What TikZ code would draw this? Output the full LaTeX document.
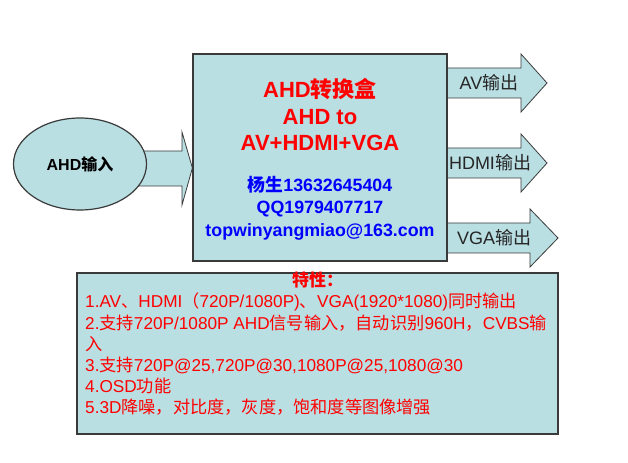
\documentclass[tikz,border=0pt]{standalone}
\usepackage{fontspec}
\setmainfont{Liberation Sans}
\newfontfamily\cjkfont{Noto Sans CJK SC}
\newcommand{\zh}[1]{{\cjkfont #1}}
\usepackage{xcolor}
\usetikzlibrary{shapes.geometric,backgrounds}
\definecolor{c1}{HTML}{B9DFE3}
\definecolor{c2}{HTML}{3A3A3A}
\tikzset{
    panel/.style={draw=c2, fill=c1, line width=1.2bp, inner sep=0pt},
    barrow/.style={draw=c2, fill=c1, line width=0.8bp, line join=miter},
    feattext/.style={text=red, inner sep=0pt, font=\fontsize{17.2bp}{21bp}\selectfont}
}

\begin{document}
\begin{tikzpicture}[x=1bp, y=-1bp]
            \useasboundingbox (0,0) rectangle (628,463);
            \node[panel, ellipse, minimum width=133bp, minimum height=92bp, font=\fontsize{16bp}{18bp}\selectfont\bfseries] (in) at (80,164) {AHD\zh{输入}};
            \node[panel, minimum width=254bp, minimum height=207bp] (box) at (320,157.5) {};
            \node[align=center, text=red, font=\fontsize{22bp}{26.5bp}\selectfont\bfseries] (title) at (box.center |- 0,115) {AHD\zh{转换盒}\\AHD to\\AV+HDMI+VGA};
            \node[align=center, text=blue, font=\fontsize{17.8bp}{22.5bp}\selectfont\bfseries] (contact) at (box.center |- 0,208) {\zh{杨生}13632645404\\QQ1979407717\\topwinyangmiao@163.com};
            \node[panel, minimum width=481bp, minimum height=161bp] (feat) at (317.5,353.5) {};
            \node[feattext, font=\fontsize{17bp}{21bp}\selectfont\bfseries] (feattitle) at (feat.center |- 0,280) {\zh{特性：}};
            \foreach \txt [count=\i] in {{1.AV\zh{、}HDMI\zh{（}720P/1080P)\zh{、}VGA(1920*1080)\zh{同时输出}},
                                         {2.\zh{支持}720P/1080P AHD\zh{信号输入，自动识别}960H\zh{，}CVBS\zh{输}},
                                         {\zh{入}},
                                         {3.\zh{支持}720P@25,720P@30,1080P@25,1080@30},
                                         {4.OSD\zh{功能}},
                                         {5.3D\zh{降噪，对比度，灰度，饱和度等图像增强}}}
                \node[feattext, anchor=base west] (f\i) at (85,{287+21*\i}) {\txt};
            \begin{scope}[on background layer]
                \draw[barrow] (in.center |- 0,151) -- (182,151) -- (182,132) -- (box.west |- 0,168) -- (182,205) -- (182,186) -- (in.center |- 0,186) -- cycle;
                \foreach \y/\hx/\tx/\lx/\lab in {83/521/547/489/AV, 163/521/547/490/HDMI, 238/530/558/494/VGA} {
                    \draw[barrow] (430,\y-15) -- (\hx,\y-15) -- (\hx,\y-29) -- (\tx,\y) -- (\hx,\y+29) -- (\hx,\y+15) -- (430,\y+15) -- cycle;
                    \node[text=black!85, font=\fontsize{18bp}{20bp}\selectfont] (out\lab) at (\lx,\y) {\lab\zh{输出}};
                }
            \end{scope}
\end{tikzpicture}
\end{document}
